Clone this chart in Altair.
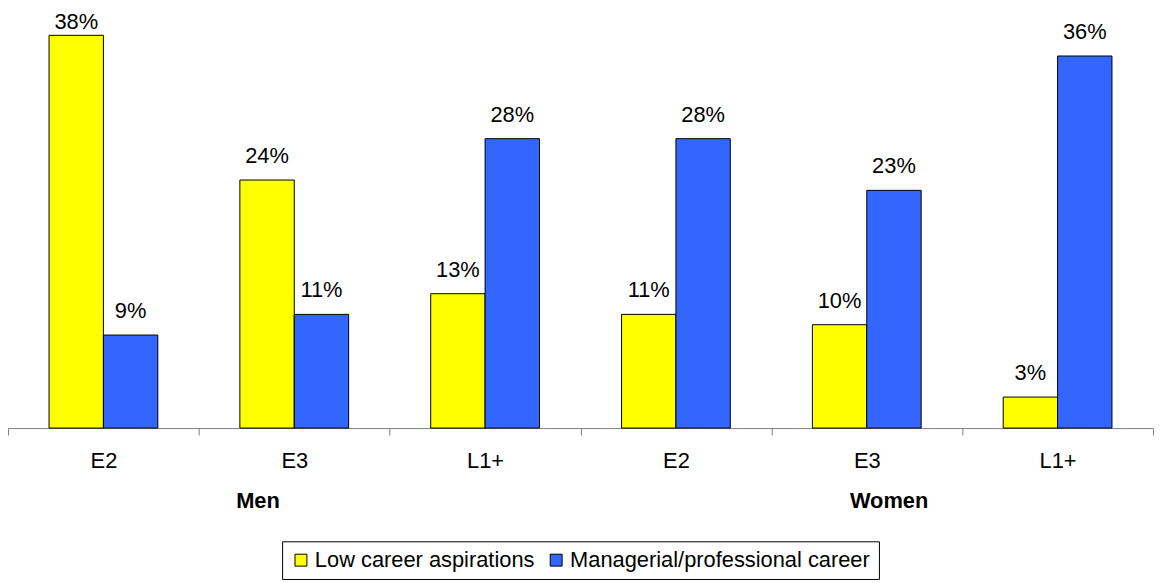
import altair as alt
import pandas as pd

# ---- data ----
groups = ["Men", "Men", "Men", "Women", "Women", "Women"]
levels = ["E2", "E3", "L1+", "E2", "E3", "L1+"]
low_career = [38, 24, 13, 11, 10, 3]
managerial = [9, 11, 28, 28, 23, 36]
series = ["Low career aspirations", "Managerial/professional career"]
colors = ["#FFFF00", "#3366FF"]
group_names = ["Men", "Women"]
group_anchor_level = ["E3", "E3"]

keys = [f"{g}|{l}" for g, l in zip(groups, levels)]
rows = []
for k, a, b in zip(keys, low_career, managerial):
    rows.append({"key": k, "series": series[0], "value": a})
    rows.append({"key": k, "series": series[1], "value": b})
df = pd.DataFrame(rows)
df_groups = pd.DataFrame({
    "key": [f"{g}|{l}" for g, l in zip(group_names, group_anchor_level)],
    "name": group_names,
})

FONT = "Liberation Sans"
W = 1153
H = 395.5
PAD_TOP = 25.5

x_enc = alt.X(
    "key:N",
    sort=keys,
    scale=alt.Scale(paddingInner=0, paddingOuter=0),
    axis=alt.Axis(
        title=None,
        labelExpr="split(datum.label, '|')[1]",
        labelAngle=0,
        tickBand="extent",
        tickSize=7,
        tickColor="#808080",
        domainColor="#808080",
        labelFontSize=22,
        labelFont=FONT,
        labelColor="black",
        labelPadding=16,
        grid=False,
    ),
)
xo_enc = alt.XOffset("series:N", sort=series,
                     scale=alt.Scale(paddingInner=0, paddingOuter=0.7545))
y_scale = alt.Scale(domain=[0, 38], nice=False, zero=True)

bars = alt.Chart(df).mark_bar(stroke="black", strokeWidth=1).encode(
    x=x_enc,
    xOffset=xo_enc,
    y=alt.Y("value:Q", scale=y_scale, axis=None),
    color=alt.Color(
        "series:N",
        scale=alt.Scale(domain=series, range=colors),
        legend=alt.Legend(
            title=None,
            orient="none",
            legendX=276,
            legendY=509.5,
            direction="horizontal",
            symbolType="square",
            symbolSize=144,
            symbolStrokeColor="black",
            symbolStrokeWidth=1,
            labelFontSize=22,
            labelFont=FONT,
            labelColor="black",
            labelLimit=0,
            strokeColor="black",
            padding=8,
            columnPadding=10,
            labelOffset=3,
        ),
    ),
)

labels = alt.Chart(df).transform_calculate(
    ty="min(datum.value, 37.0)", lab="datum.value + '%'"
).mark_text(baseline="alphabetic", dy=-17, fontSize=22, font=FONT, color="black").encode(
    x=x_enc,
    xOffset=xo_enc,
    y=alt.Y("ty:Q", scale=y_scale, axis=None),
    text="lab:N",
)

men = alt.Chart(df_groups).transform_filter(alt.datum.name == "Men").mark_text(
    fontSize=22, fontWeight="bold", font=FONT, color="black", baseline="middle", dx=-36.5
).encode(x=x_enc, y=alt.value(468.5), text="name:N")

women = alt.Chart(df_groups).transform_filter(alt.datum.name == "Women").mark_text(
    fontSize=22, fontWeight="bold", font=FONT, color="black", baseline="middle", dx=22.5
).encode(x=x_enc, y=alt.value(468.5), text="name:N")

chart = alt.layer(bars, labels, men, women).properties(
    width=W,
    height=H,
    autosize=alt.AutoSizeParams(type="none"),
    padding={"left": 0, "top": PAD_TOP, "right": 2, "bottom": 154},
).configure_view(stroke=None)

chart.save("out.html", embed_options={"renderer": "svg", "actions": False})
